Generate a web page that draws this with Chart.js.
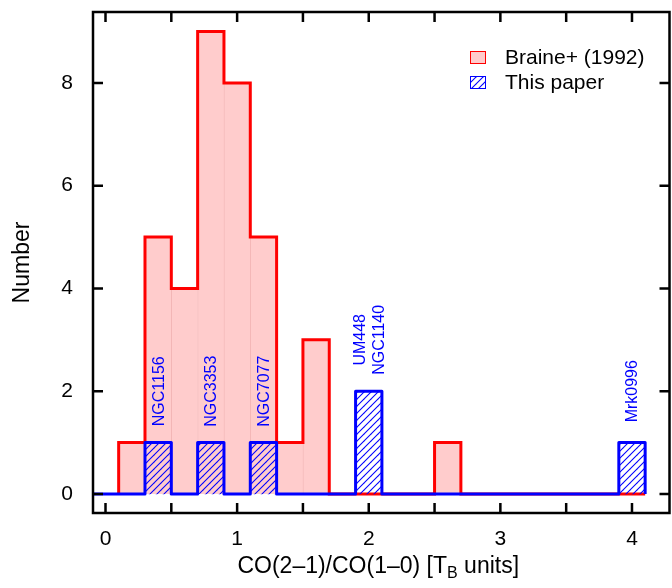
<!DOCTYPE html>
<html>
<head>
<meta charset="utf-8">
<script src="https://cdn.jsdelivr.net/npm/chart.js@4"></script>
<style>
  html, body { margin: 0; padding: 0; background: #fff; }
  #histo { display: block; }
</style>
</head>
<body>
<canvas id="histo" width="672" height="588"></canvas>
<script>
// 20 bins of width 0.2, first one starts at 0.1
const binStart = 0.1;
const binWidth = 0.2;
const braineCounts = [1, 5, 4, 9, 8, 5, 1, 3, 0, 0, 0, 0, 1, 0, 0, 0, 0, 0, 0, 0];
const paperCounts  = [0, 1, 0, 1, 0, 1, 0, 0, 0, 2, 0, 0, 0, 0, 0, 0, 0, 0, 0, 1];

// galaxy names written above our bins
const nameBins  = [1, 3, 5, 9, 19];
const nameTexts = [['NGC1156'], ['NGC3353'], ['NGC7077'], ['UM448', 'NGC1140'], ['Mrk0996']];

const seriesNames = ['Braine+ (1992)', 'This paper'];
const xTitleParts = ['CO(2\u20131)/CO(1\u20130) [T', 'B', ' units]'];
const yTitle = 'Number';

const xRange = [-0.095, 4.285];
const yRange = [-0.37, 9.38];

const FONT = '"Liberation Sans", Arial, Helvetica, sans-serif';
const RED = '#ff0000';
const BLUE = '#0000ff';
const PINK = 'rgb(255, 204, 204)';

function binCentres(counts) {
    return counts.map((c, i) => ({ x: binStart + binWidth * (i + 0.5), y: c }));
}

// outline of a histogram, for a 'before' stepped line
function stepPoints(counts, from) {
    const pts = [{ x: from, y: 0 }];
    counts.forEach((c, i) => pts.push({ x: binStart + binWidth * i, y: c }));
    pts.push({ x: binStart + binWidth * counts.length, y: 0 });
    return pts;
}

// diagonal "///" hatching, drawn as filled strips so it stays blue
function hatch(color, size) {
    const c = document.createElement('canvas');
    c.width = c.height = size;
    const g = c.getContext('2d');
    g.fillStyle = color;
    const w = 0.75;
    [-size, 0, size].forEach(off => {
        g.beginPath();
        g.moveTo(off - w, size);
        g.lineTo(off + size - w, 0);
        g.lineTo(off + size + w, 0);
        g.lineTo(off + w, size);
        g.closePath();
        g.fill();
    });
    return g.createPattern(c, 'repeat');
}

const blueHatch = hatch(BLUE, 7);

// box round the plot with inward ticks on all four sides
const framePlugin = {
    id: 'frame',
    afterDatasetsDraw(chart) {
        const { ctx, chartArea: a, scales: { x, y } } = chart;
        ctx.save();
        ctx.strokeStyle = '#000';
        ctx.lineWidth = 2.5;
        ctx.beginPath();
        for (let v = Math.ceil(xRange[0] / 0.5) * 0.5; v <= xRange[1]; v += 0.5) {
            const px = x.getPixelForValue(v);
            ctx.moveTo(px, a.bottom); ctx.lineTo(px, a.bottom - 10);
            ctx.moveTo(px, a.top); ctx.lineTo(px, a.top + 10);
        }
        y.ticks.forEach(t => {
            const py = y.getPixelForValue(t.value);
            ctx.moveTo(a.left, py); ctx.lineTo(a.left + 10, py);
            ctx.moveTo(a.right, py); ctx.lineTo(a.right - 10, py);
        });
        ctx.stroke();
        ctx.strokeRect(a.left, a.top, a.right - a.left, a.bottom - a.top);
        ctx.restore();
    }
};

// vertical galaxy names, centred one unit above each bar
const namesPlugin = {
    id: 'names',
    afterDatasetsDraw(chart) {
        const { ctx, scales: { x, y } } = chart;
        ctx.save();
        ctx.fillStyle = BLUE;
        ctx.font = '16px ' + FONT;
        ctx.textAlign = 'center';
        ctx.textBaseline = 'middle';
        nameBins.forEach((bin, k) => {
            const lines = nameTexts[k];
            const px = x.getPixelForValue(binStart + binWidth * (bin + 0.5));
            const py = y.getPixelForValue(paperCounts[bin] + 1);
            ctx.save();
            ctx.translate(px, py);
            ctx.rotate(-Math.PI / 2);
            lines.forEach((s, j) => {
                ctx.fillText(s, 0, (j - (lines.length - 1) / 2) * 19 + 1);
            });
            ctx.restore();
        });
        ctx.restore();
    }
};

const legendPlugin = {
    id: 'boxLegend',
    afterDraw(chart) {
        const ctx = chart.ctx;
        const rows = [
            { y: 58, fill: PINK, stroke: RED },
            { y: 83, fill: blueHatch, stroke: BLUE }
        ];
        ctx.save();
        ctx.font = '21px ' + FONT;
        ctx.textBaseline = 'middle';
        rows.forEach((r, i) => {
            ctx.fillStyle = r.fill;
            ctx.fillRect(470, r.y - 7, 16, 13);
            ctx.strokeStyle = r.stroke;
            ctx.lineWidth = 1;
            ctx.strokeRect(470.5, r.y - 6.5, 15, 12);
            ctx.fillStyle = '#000';
            ctx.fillText(seriesNames[i], 505, r.y);
        });
        ctx.restore();
    }
};

// x title needs a subscript, so it is set by hand
const xTitlePlugin = {
    id: 'xTitle',
    afterDraw(chart) {
        const { ctx, chartArea: a } = chart;
        const big = '23px ' + FONT, small = '16px ' + FONT;
        ctx.save();
        ctx.fillStyle = '#000';
        ctx.textBaseline = 'alphabetic';
        ctx.font = big;
        const w0 = ctx.measureText(xTitleParts[0]).width;
        const w2 = ctx.measureText(xTitleParts[2]).width;
        ctx.font = small;
        const w1 = ctx.measureText(xTitleParts[1]).width;
        let cx = (a.left + a.right) / 2 - (w0 + w1 + w2) / 2 - 3;
        const base = 573;
        ctx.font = big;
        ctx.fillText(xTitleParts[0], cx, base);
        cx += w0;
        ctx.font = small;
        ctx.fillText(xTitleParts[1], cx, base + 5);
        cx += w1;
        ctx.font = big;
        ctx.fillText(xTitleParts[2], cx, base);
        ctx.restore();
    }
};

const histo = new Chart(document.getElementById('histo').getContext('2d'), {
    type: 'bar',
    data: {
        datasets: [{
            type: 'line',
            label: seriesNames[1] + ' outline',
            data: stepPoints(paperCounts, xRange[0]),
            stepped: 'before',
            borderColor: BLUE,
            borderWidth: 3,
            borderJoinStyle: 'round',
            pointRadius: 0,
            fill: false,
            order: 1
        }, {
            label: seriesNames[1],
            data: binCentres(paperCounts),
            backgroundColor: blueHatch,
            borderWidth: 0,
            barPercentage: 1,
            categoryPercentage: 1,
            grouped: false,
            order: 2
        }, {
            type: 'line',
            label: seriesNames[0] + ' outline',
            data: stepPoints(braineCounts, binStart),
            stepped: 'before',
            borderColor: RED,
            borderWidth: 3,
            pointRadius: 0,
            fill: false,
            order: 3
        }, {
            label: seriesNames[0],
            data: binCentres(braineCounts),
            backgroundColor: PINK,
            borderColor: 'rgba(235, 140, 140, 0.6)',
            borderWidth: { left: 1, right: 0, top: 0, bottom: 0 },
            barPercentage: 1,
            categoryPercentage: 1,
            grouped: false,
            order: 4
        }]
    },
    options: {
        responsive: false,
        animation: false,
        layout: { autoPadding: false, padding: { top: 12, right: 2.5, left: 0, bottom: 0 } },
        scales: {
            x: {
                type: 'linear',
                offset: false,
                min: xRange[0],
                max: xRange[1],
                grid: { display: false, drawTicks: false },
                border: { display: false },
                ticks: {
                    stepSize: 1,
                    includeBounds: false,
                    padding: 14,
                    color: '#000',
                    font: { family: FONT, size: 21 },
                    maxRotation: 0
                },
                afterFit: s => { s.height = 75; s.paddingLeft = 0; s.paddingRight = 0; }
            },
            y: {
                min: yRange[0],
                max: yRange[1],
                grid: { display: false, drawTicks: false },
                border: { display: false },
                ticks: {
                    stepSize: 2,
                    includeBounds: false,
                    padding: 20,
                    color: '#000',
                    font: { family: FONT, size: 21 }
                },
                title: {
                    display: true,
                    text: yTitle,
                    color: '#000',
                    font: { family: FONT, size: 23 },
                    padding: { top: 9, bottom: 0 }
                },
                afterFit: s => { s.width = 93; s.paddingTop = 0; s.paddingBottom = 0; }
            }
        },
        plugins: {
            legend: { display: false },
            tooltip: { enabled: false }
        }
    },
    plugins: [namesPlugin, framePlugin, legendPlugin, xTitlePlugin]
});
</script>
</body>
</html>
